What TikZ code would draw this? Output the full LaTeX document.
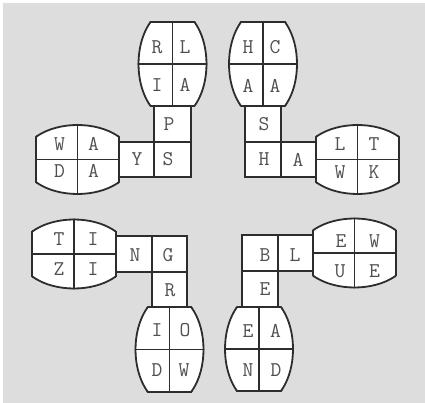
\documentclass[tikz,border=0pt]{standalone}
\usepackage{fontspec}
\definecolor{bggray}{RGB}{221,221,221}
\definecolor{ink}{RGB}{45,45,45}
\definecolor{lettink}{RGB}{80,80,80}
\tikzset{
  outl/.style={draw=ink, line width=1.8pt},
  divl/.style={draw=ink, line width=1.3pt},
  cell/.style={draw=ink, line width=1.8pt, fill=white, inner sep=0pt},
  lt/.style={inner sep=0pt, text=lettink, font=\ttfamily\fontsize{21}{25}\selectfont},
}
% vertical barrel: cx, cy, ytop, ybottom
\newcommand\vbarrel[4]{%
  \begin{scope}
    \clip ({#1-45},{#3}) rectangle ({#1+45},{#4});
    \filldraw[outl, fill=white] (#1,#2) ellipse [x radius=34pt, y radius=55pt];
  \end{scope}
  \begin{scope}
    \clip (#1,#2) ellipse [x radius=34.9pt, y radius=55.9pt];
    \draw[outl] ({#1-45},{#3}) -- ({#1+45},{#3}) ({#1-45},{#4}) -- ({#1+45},{#4});
    \draw[divl] (#1,#3) -- (#1,#4) ({#1-45},#2) -- ({#1+45},#2);
  \end{scope}}
% horizontal barrel: cx, cy, xleft, xright
\newcommand\hbarrel[4]{%
  \begin{scope}
    \clip ({#3},{#2-45}) rectangle ({#4},{#2+45});
    \filldraw[outl, fill=white] (#1,#2) ellipse [x radius=55pt, y radius=34.5pt];
  \end{scope}
  \begin{scope}
    \clip (#1,#2) ellipse [x radius=55.9pt, y radius=35.4pt];
    \draw[outl] ({#3},{#2-45}) -- ({#3},{#2+45}) ({#4},{#2-45}) -- ({#4},{#2+45});
    \draw[divl] (#1,{#2-45}) -- (#1,{#2+45}) (#3,#2) -- (#4,#2);
  \end{scope}}
\begin{document}
\begin{tikzpicture}[x=1pt, y=-1pt]
  \useasboundingbox (0,0) rectangle (425,403);
  \fill[white] (0,0) rectangle (425,403);
  \fill[bggray] (3,3) rectangle (425,403);

  % ---------- top left ----------
  \vbarrel{172.5}{64}{22}{106}
  \hbarrel{77.5}{159.5}{36}{119}
  \node[cell, minimum width=37pt, minimum height=36pt] (tlP) at (172.5,124) {};
  \node[cell, minimum width=37pt, minimum height=35pt] (tlS) at (172.5,159.5) {};
  \node[cell, minimum width=35pt, minimum height=35pt] (tlY) at (136.5,159.5) {};
  \node[lt] (tlR) at (157,47) {R};
  \node[lt] (tlL) at (185,47) {L};
  \node[lt] (tlI) at (157,85) {I};
  \node[lt] (tlA) at (185,85) {A};
  \node[lt] (tlPl) at (169,124) {P};
  \node[lt] (tlSl) at (168,159) {S};
  \node[lt] (tlYl) at (137,159) {Y};
  \node[lt] (tlW) at (59.5,144) {W};
  \node[lt] (tlA2) at (93.5,144) {A};
  \node[lt] (tlD) at (59.5,171) {D};
  \node[lt] (tlA3) at (93.5,171) {A};

  % ---------- top right ----------
  \vbarrel{263}{64}{22}{106}
  \hbarrel{357.5}{159.5}{316}{399}
  \node[cell, minimum width=36pt, minimum height=36pt] (trS) at (263,124) {};
  \node[cell, minimum width=36pt, minimum height=35pt] (trH) at (263,159.5) {};
  \node[cell, minimum width=35pt, minimum height=35pt] (trA) at (298.5,159.5) {};
  \node[lt] (trHl) at (248,47) {H};
  \node[lt] (trC) at (275,47) {C};
  \node[lt] (trA1) at (248,86) {A};
  \node[lt] (trA2) at (275,86) {A};
  \node[lt] (trSl) at (264,124) {S};
  \node[lt] (trH2) at (264,159.5) {H};
  \node[lt] (trAl) at (298,159.5) {A};
  \node[lt] (trL) at (340,144) {L};
  \node[lt] (trT) at (374,144) {T};
  \node[lt] (trW) at (340,172) {W};
  \node[lt] (trK) at (374,172) {K};

  % ---------- bottom left ----------
  \hbarrel{74}{254}{32}{116}
  \vbarrel{169.5}{349.5}{307}{392}
  \node[cell, minimum width=36pt, minimum height=36pt] (blN) at (134,254) {};
  \node[cell, minimum width=35pt, minimum height=36pt] (blG) at (169.5,254) {};
  \node[cell, minimum width=35pt, minimum height=35pt] (blR) at (169.5,289.5) {};
  \node[lt] (blT) at (59,239) {T};
  \node[lt] (blI1) at (93,239) {I};
  \node[lt] (blZ) at (59,269) {Z};
  \node[lt] (blI2) at (93,269) {I};
  \node[lt] (blNl) at (135,255) {N};
  \node[lt] (blGl) at (168,255) {G};
  \node[lt] (blRl) at (170,290) {R};
  \node[lt] (blI3) at (157,330) {I};
  \node[lt] (blO) at (185,330) {O};
  \node[lt] (blD) at (157,370) {D};
  \node[lt] (blW) at (184,370) {W};

  % ---------- bottom right ----------
  \hbarrel{354.5}{253}{313}{396}
  \vbarrel{259}{349}{307}{391}
  \node[cell, minimum width=36pt, minimum height=36pt] (brB) at (260,253) {};
  \node[cell, minimum width=35pt, minimum height=36pt] (brL) at (295.5,253) {};
  \node[cell, minimum width=36pt, minimum height=36pt] (brE) at (260,289) {};
  \node[lt] (brBl) at (265,255) {B};
  \node[lt] (brLl) at (295,255) {L};
  \node[lt] (brEl) at (265,289.5) {E};
  \node[lt] (brE1) at (341,241) {E};
  \node[lt] (brW) at (374.5,241) {W};
  \node[lt] (brU) at (340,271.5) {U};
  \node[lt] (brE2) at (374.5,271.5) {E};
  \node[lt] (brE3) at (248,331) {E};
  \node[lt] (brA) at (275.5,331) {A};
  \node[lt] (brN) at (248,370) {N};
  \node[lt] (brD) at (276,370) {D};
\end{tikzpicture}
\end{document}
